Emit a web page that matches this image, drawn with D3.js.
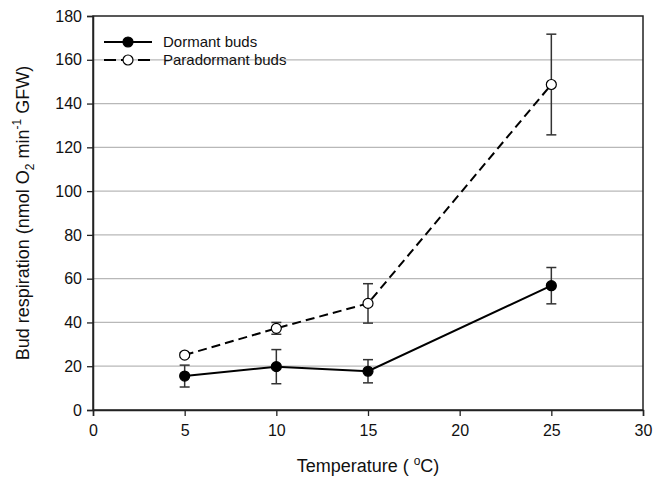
<!DOCTYPE html>
<html>
<head>
<meta charset="utf-8">
<script src="https://cdn.jsdelivr.net/npm/d3@7"></script>
<style>
  body { margin: 0; background: #fff; }
  text { font-family: "Liberation Sans", Arial, sans-serif; fill: #111; }
</style>
</head>
<body>
<script>
// temperatures (°C)
const temps = [5, 10, 15, 25]
// dormant buds: mean and error
const dormant = [15.5, 19.8, 17.7, 56.8]
const dormantErr = [5, 7.8, 5.3, 8.3]
// paradormant buds
const paradormant = [25.1, 37.3, 48.7, 148.7]
const paradormantErr = [1, 2.7, 9, 23]

const xTicks = [0, 5, 10, 15, 20, 25, 30]
const yTicks = [0, 20, 40, 60, 80, 100, 120, 140, 160, 180]

const W = 665, H = 479
const margin = { left: 93, right: 22, top: 16, bottom: 69 }

const svg = d3.select("body").append("svg")
    .attr("width", W)
    .attr("height", H)

const x = d3.scaleLinear().domain([0, 30]).range([margin.left, W - margin.right])
const y = d3.scaleLinear().domain([0, 180]).range([H - margin.bottom, margin.top])

// grid lines
svg.append("g")
    .selectAll("line")
    .data(yTicks.filter(t => t > 0 && t < 180))
    .enter()
    .append("line")
    .attr("x1", x(0)).attr("x2", x(30))
    .attr("y1", d => y(d)).attr("y2", d => y(d))
    .attr("stroke", "#b8b8b8")
    .attr("stroke-width", 1.2)

// frame
svg.append("rect")
    .attr("x", x(0)).attr("y", y(180))
    .attr("width", x(30) - x(0)).attr("height", y(0) - y(180))
    .attr("fill", "none")
    .attr("stroke", "#222")
    .attr("stroke-width", 1.5)

const xAxis = svg.append("g")
    .attr("transform", `translate(0,${y(0)})`)
    .call(d3.axisBottom(x).tickValues(xTicks).tickSize(6).tickPadding(9))
const yAxis = svg.append("g")
    .attr("transform", `translate(${x(0)},0)`)
    .call(d3.axisLeft(y).tickValues(yTicks).tickSize(6).tickPadding(5))

for (let ax of [xAxis, yAxis]) {
    ax.select(".domain").attr("stroke", "#222").attr("stroke-width", 1.5)
    ax.selectAll(".tick line").attr("stroke", "#222").attr("stroke-width", 1.3)
    ax.selectAll(".tick text")
        .style("font-family", "'Liberation Sans', Arial, sans-serif")
        .style("font-size", "16px")
        .attr("fill", "#111")
}

// series
const series = [
    { name: "Dormant buds", vals: dormant, err: dormantErr, fill: "#000", dash: null },
    { name: "Paradormant buds", vals: paradormant, err: paradormantErr, fill: "#fff", dash: "9,5" }
]

const line = d3.line()
    .x(d => x(d.t))
    .y(d => y(d.v))

for (let s of series) {
    let pts = temps.map((t, i) => ({ t: t, v: s.vals[i], e: s.err[i] }))
    let g = svg.append("g")

    // error bars
    let eb = g.selectAll(".eb")
        .data(pts)
        .enter()
        .append("g")
        .attr("stroke", "#333")
        .attr("stroke-width", 1.5)
    eb.append("line")
        .attr("x1", d => x(d.t)).attr("x2", d => x(d.t))
        .attr("y1", d => y(d.v + d.e)).attr("y2", d => y(d.v - d.e))
    eb.append("line")
        .attr("x1", d => x(d.t) - 5).attr("x2", d => x(d.t) + 5)
        .attr("y1", d => y(d.v + d.e)).attr("y2", d => y(d.v + d.e))
    eb.append("line")
        .attr("x1", d => x(d.t) - 5).attr("x2", d => x(d.t) + 5)
        .attr("y1", d => y(d.v - d.e)).attr("y2", d => y(d.v - d.e))

    g.append("path")
        .datum(pts)
        .attr("d", line)
        .attr("fill", "none")
        .attr("stroke", "#000")
        .attr("stroke-width", 2)
        .attr("stroke-dasharray", s.dash)

    g.selectAll("circle")
        .data(pts)
        .enter()
        .append("circle")
        .attr("cx", d => x(d.t))
        .attr("cy", d => y(d.v))
        .attr("r", 5)
        .attr("fill", s.fill)
        .attr("stroke", "#000")
        .attr("stroke-width", 1.2)
}

// legend
const legend = svg.append("g")
    .selectAll("g")
    .data(series)
    .enter()
    .append("g")
    .attr("transform", (d, i) => `translate(104,${42 + i * 18})`)
legend.append("line")
    .attr("x1", 0).attr("x2", 48)
    .attr("stroke", "#000")
    .attr("stroke-width", 2)
    .attr("stroke-dasharray", d => d.dash ? "12,5" : null)
legend.append("circle")
    .attr("cx", 24).attr("r", 5)
    .attr("fill", d => d.fill)
    .attr("stroke", "#000")
    .attr("stroke-width", 1.2)
legend.append("text")
    .attr("x", 59)
    .attr("dy", "0.35em")
    .style("font-size", "15px")
    .text(d => d.name)

// axis titles
svg.append("text")
    .attr("x", (x(0) + x(30)) / 2)
    .attr("y", 472)
    .attr("text-anchor", "middle")
    .style("font-size", "18px")
    .html('Temperature ( <tspan dy="-7" font-size="12px">o</tspan><tspan dy="7">C)</tspan>')

svg.append("text")
    .attr("transform", `translate(29,${(y(0) + y(180)) / 2}) rotate(-90)`)
    .attr("text-anchor", "middle")
    .style("font-size", "18px")
    .html('Bud respiration (nmol O<tspan dy="5" font-size="12px">2</tspan><tspan dy="-5"> min</tspan><tspan dy="-8" font-size="12px">-1</tspan><tspan dy="8"> GFW)</tspan>')
</script>
</body>
</html>
